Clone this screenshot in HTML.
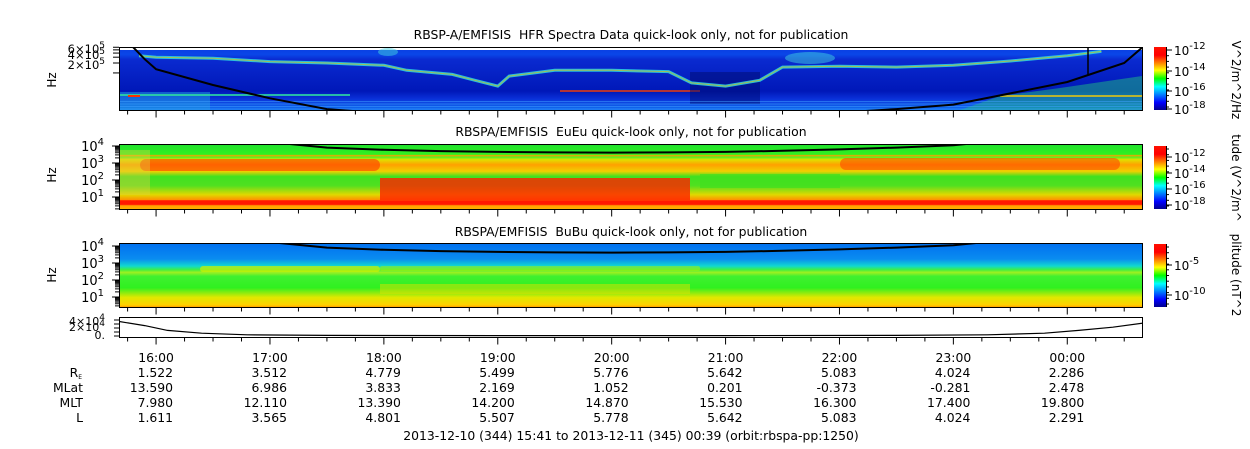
<!DOCTYPE html>
<html><head><meta charset="utf-8"><style>
html,body{margin:0;padding:0;background:#fff}
svg{display:block;font-family:"DejaVu Sans","Liberation Sans",sans-serif}
</style></head><body>
<svg id="c" width="1250" height="449" viewBox="0 0 1250 449">
<defs>
<linearGradient id="jet" x1="0" y1="1" x2="0" y2="0">
<stop offset="0" stop-color="#00008f"/><stop offset="0.12" stop-color="#0000ff"/><stop offset="0.37" stop-color="#00ffff"/><stop offset="0.5" stop-color="#00ff00"/><stop offset="0.63" stop-color="#ffff00"/><stop offset="0.87" stop-color="#ff0000"/><stop offset="1" stop-color="#ff1000"/>
</linearGradient>
<linearGradient id="g1" x1="0" y1="0" x2="0" y2="1">
<stop offset="0" stop-color="#0a3ce0"/><stop offset="0.12" stop-color="#0a46e8"/><stop offset="0.2" stop-color="#0a2ad0"/><stop offset="0.7" stop-color="#0018b8"/><stop offset="0.82" stop-color="#0a30d8"/><stop offset="1" stop-color="#1070f0"/>
</linearGradient>
<linearGradient id="g2" x1="0" y1="0" x2="0" y2="1">
<stop offset="0" stop-color="#20e030"/><stop offset="0.16" stop-color="#30f020"/><stop offset="0.18" stop-color="#ffa000"/><stop offset="0.2" stop-color="#50f020"/><stop offset="0.24" stop-color="#e0e000"/><stop offset="0.32" stop-color="#ffa000"/><stop offset="0.42" stop-color="#f0d000"/><stop offset="0.5" stop-color="#40e020"/><stop offset="0.64" stop-color="#50e020"/><stop offset="0.78" stop-color="#e0d800"/><stop offset="0.86" stop-color="#ff9000"/><stop offset="0.87" stop-color="#ff1800"/><stop offset="0.93" stop-color="#ff1800"/><stop offset="0.95" stop-color="#ffa000"/><stop offset="1" stop-color="#ffb000"/>
</linearGradient>
<linearGradient id="g3" x1="0" y1="0" x2="0" y2="1">
<stop offset="0" stop-color="#0070f0"/><stop offset="0.25" stop-color="#0a8cf0"/><stop offset="0.36" stop-color="#10d8d0"/><stop offset="0.42" stop-color="#40f040"/><stop offset="0.46" stop-color="#a0f020"/><stop offset="0.52" stop-color="#40f030"/><stop offset="0.7" stop-color="#30f020"/><stop offset="0.85" stop-color="#e0e800"/><stop offset="0.97" stop-color="#ffd000"/><stop offset="1" stop-color="#ffa000"/>
</linearGradient>
<clipPath id="cp1"><rect x="120" y="48" width="1022" height="62"/></clipPath>
<clipPath id="cp2"><rect x="120" y="145" width="1022" height="64"/></clipPath>
<clipPath id="cp3"><rect x="120" y="244" width="1022" height="63"/></clipPath>
<clipPath id="cp4"><rect x="120" y="318" width="1022" height="19"/></clipPath>
</defs>
<g id="layer"></g>
</svg>
<script>
// ---- data ----
var hourTicks = [16,17,18,19,20,21,22,23,24];
var hourLabels = ["16:00","17:00","18:00","19:00","20:00","21:00","22:00","23:00","00:00"];
var reVals = ["1.522","3.512","4.779","5.499","5.776","5.642","5.083","4.024","2.286"];
var mlatVals = ["13.590","6.986","3.833","2.169","1.052","0.201","-0.373","-0.281","2.478"];
var mltVals = ["7.980","12.110","13.390","14.200","14.870","15.530","16.300","17.400","19.800"];
var lVals = ["1.611","3.565","4.801","5.507","5.778","5.642","5.083","4.024","2.291"];
// electron cyclotron frequency curve (hours, Hz)
var fceHours = [15.78,15.9,16.0,16.5,17.0,17.5,18.0,18.5,19.0,19.5,20.0,20.5,21.0,21.5,22.0,22.5,23.0,23.5,24.0,24.5,24.66];
var fceHz =    [7e5,2.6e5,1.3e5,4.3e4,1.7e4,8e3,6e3,5e3,4.5e3,4.2e3,4.1e3,4.2e3,4.5e3,5.2e3,6.3e3,8e3,1.1e4,2.4e4,5.3e4,2e5,6e5];
// upper hybrid emission line (hours, Hz)
var uhHours = [15.85,16.0,16.5,17.0,17.5,18.0,18.2,18.6,18.8,19.0,19.1,19.5,20.0,20.5,20.7,21.0,21.3,21.5,22.0,22.5,23.0,23.5,24.0,24.3];
var uhHz =    [3.3e5,3.0e5,2.8e5,2.2e5,2.0e5,1.7e5,1.2e5,9e4,6e4,4e4,8e4,1.2e5,1.2e5,1.1e5,5e4,4e4,6e4,1.5e5,1.6e5,1.5e5,1.7e5,2.3e5,3.3e5,4.5e5];
// bottom panel trace (hours, value)
var p4Hours = [15.68,15.9,16.1,16.4,16.8,17.5,19,21,22.5,23.3,23.8,24.1,24.4,24.66];
var p4Vals =  [3.6e4,2.6e4,1.4e4,7e3,3e3,1.5e3,1e3,1e3,1.5e3,3e3,7e3,1.4e4,2.2e4,3.2e4];

// ---- axes ----
var T0 = 15.6833, PXH = 113.9, X0 = 120;
function xT(h){ return X0 + (h - T0) * PXH; }
function y1(v){ return 63 + (Math.log10(2e5) - Math.log10(v)) * 33; }
function y2(v){ return 146 + (4 - Math.log10(v)) * 17; }
function y3(v){ return 246 + (4 - Math.log10(v)) * 17; }
function y4(v){ return 336 - v / 4e4 * 16; }

var NS = "http://www.w3.org/2000/svg";
var layer = document.getElementById('layer');
function mk(tag, attrs, parent){
  var e = document.createElementNS(NS, tag);
  for (var k in attrs) e.setAttribute(k, attrs[k]);
  (parent || layer).appendChild(e);
  return e;
}
function txt(s, x, y, anchor, size, parent){
  var t = mk('text', {x:x, y:y, 'text-anchor':anchor||'start', 'font-size':size||12, fill:'#000'}, parent);
  t.textContent = s;
  return t;
}

// ---- panel backgrounds ----
var panels = [
  {y:47, h:63, fill:'url(#g1)', cp:'cp1', name:'hfr-spectrogram'},
  {y:144, h:65, fill:'url(#g2)', cp:'cp2', name:'eueu-spectrogram'},
  {y:243, h:64, fill:'url(#g3)', cp:'cp3', name:'bubu-spectrogram'},
  {y:317, h:20, fill:'#fff', cp:'cp4', name:'position-panel'}
];
panels.forEach(function(p){
  var g = mk('g', {'clip-path':'url(#'+p.cp+')'});
  
  
  p.g = g;
  mk('rect', {x:119, y:p.y, width:1024, height:p.h, fill:p.fill}, g);
});

// panel 1 decorations
var g1 = panels[0].g;
mk('rect',{x:120,y:47,width:1022,height:3,fill:'#fff'},g1);
mk('rect',{x:120,y:92,width:90,height:18,fill:'#20a0e0',opacity:0.5},g1);
mk('rect',{x:120,y:94,width:230,height:2,fill:'#30e0a0',opacity:0.8},g1);
mk('rect',{x:128,y:95,width:12,height:2,fill:'#ff3000'},g1);
mk('rect',{x:560,y:90,width:140,height:2,fill:'#ff4000',opacity:0.7},g1);
mk('path',{d:'M960 110 L1000 96 L1060 88 L1142 76 L1142 110 Z',fill:'#20c080',opacity:0.5},g1);
mk('rect',{x:1000,y:95,width:142,height:2,fill:'#ffd000',opacity:0.7},g1);
mk('ellipse',{cx:810,cy:58,rx:25,ry:6,fill:'#40d0e0',opacity:0.5},g1);
mk('ellipse',{cx:388,cy:52,rx:10,ry:4,fill:'#40d0e0',opacity:0.5},g1);
mk('rect',{x:690,y:72,width:70,height:32,fill:'#000c70',opacity:0.5},g1);
for (var i=0;i<4;i++) mk('rect',{x:120,y:101+i*2.5,width:1022,height:1,fill:'#40a0ff',opacity:0.5},g1);

// panel 2 decorations
var g2 = panels[1].g;
mk('rect',{x:140,y:159,width:240,height:12,rx:6,fill:'#ff3800',opacity:0.6},g2);
mk('rect',{x:840,y:158,width:280,height:12,rx:6,fill:'#ff4000',opacity:0.55},g2);
mk('rect',{x:380,y:178,width:310,height:22,fill:'#ff2000',opacity:0.8},g2);
mk('rect',{x:700,y:174,width:140,height:14,fill:'#40e020',opacity:0.7},g2);
mk('rect',{x:120,y:150,width:30,height:45,fill:'#e0d040',opacity:0.4},g2);

// panel 3 decorations
var g3 = panels[2].g;
mk('rect',{x:200,y:266,width:180,height:6,rx:3,fill:'#d0f000',opacity:0.7},g3);
mk('rect',{x:380,y:266,width:320,height:5,rx:2,fill:'#b0f000',opacity:0.5},g3);
mk('rect',{x:380,y:284,width:310,height:10,fill:'#e0e000',opacity:0.5},g3);

// ---- curves ----
function poly(hours, vals, yf, g, name, w){
  var d = hours.map(function(h,i){ return (i?'L':'M') + xT(h).toFixed(1) + ' ' + yf(vals[i]).toFixed(1); }).join(' ');
  var p = mk('path',{d:d, fill:'none', stroke:'#000', 'stroke-width':w||2}, g);
  
  
  return p;
}
var uh = poly(uhHours, uhHz, y1, g1, 'upper-hybrid-line', 3);
uh.setAttribute('stroke','#30d8e0');
uh.setAttribute('opacity','0.85');
var uh2 = poly(uhHours, uhHz, y1, g1, 'upper-hybrid-core', 1);
uh2.setAttribute('stroke','#f0c000');
uh2.setAttribute('opacity','0.6');
poly(fceHours, fceHz, y1, g1, 'fce-line-hfr', 2);
mk('line',{x1:1088,y1:47,x2:1088,y2:75,stroke:'#000','stroke-width':1.5},g1);
poly(fceHours, fceHz, y2, g2, 'fce-line-eueu', 2);
poly(fceHours, fceHz, y3, g3, 'fce-line-bubu', 2);
poly(p4Hours, p4Vals, y4, panels[3].g, 'position-trace', 1.2);

// ---- frames & ticks ----
panels.forEach(function(p){
  mk('rect',{x:119.5,y:p.y+0.5,width:1023,height:p.h,fill:'none',stroke:'#000','stroke-width':1});
  var yb = p.y + p.h + 0.5;
  for (var m = 15.75; m <= 24.66; m += 0.25){
    var major = Math.abs(m - Math.round(m)) < 1e-6;
    mk('line',{x1:xT(m),y1:yb,x2:xT(m),y2:yb+(major?7:4),stroke:'#000','stroke-width':1});
  }
});

// panel1 labels
[[6,49],[4,55],[2,65]].forEach(function(a){
  var t = txt(a[0]+'×10', 105, a[1]+4, 'end', 11.5);
  var s = mk('tspan',{dy:-5,'font-size':9}, t); s.textContent='5';
});
[6e5,5e5,4e5,3e5,2e5,1e5].forEach(function(v){ mk('line',{x1:113,y1:y1(v),x2:119,y2:y1(v),stroke:'#000'}); });
function decadeLabels(yf, exps, base){
  exps.forEach(function(e){
    var v = Math.pow(10,e);
    var t = txt('10', 104, yf(v)+5, 'end', 13);
    var s = mk('tspan',{dy:-6,'font-size':10}, t); s.textContent = String(e);
    mk('line',{x1:112,y1:yf(v),x2:119,y2:yf(v),stroke:'#000'});
    for (var k=2;k<10;k++){ var yy=yf(v*k); if (yy>base[0] && yy<base[1]) mk('line',{x1:115,y1:yy,x2:119,y2:yy,stroke:'#000'}); }
    for (var k2=2;k2<10;k2++){ var yz=yf(v/10*k2); if (e===1 && yz>base[0] && yz<base[1]) mk('line',{x1:115,y1:yz,x2:119,y2:yz,stroke:'#000'}); }
  });
}
decadeLabels(y2,[4,3,2,1],[144,209]);
decadeLabels(y3,[4,3,2,1],[243,307]);
var p4t = [['4×10',321],['2×10',327]];
p4t.forEach(function(a){ var t=txt(a[0],105,a[1]+4,'end',11); var s=mk('tspan',{dy:-5,'font-size':9},t); s.textContent='4'; });
txt('0.',105,339,'end',11);
[0,1e4,2e4,3e4,4e4].forEach(function(v){ mk('line',{x1:114,y1:y4(v),x2:119,y2:y4(v),stroke:'#000'}); });

// Hz labels
[[80,'hz-label-1'],[175,'hz-label-2'],[275,'hz-label-3']].forEach(function(a){
  var t = txt('Hz', 56, a[0], 'middle', 12);
  t.setAttribute('transform','rotate(-90 56 '+a[0]+')');
  
  
});

// titles
var titles = [['RBSP-A/EMFISIS  HFR Spectra Data quick-look only, not for publication',39],
              ['RBSPA/EMFISIS  EuEu quick-look only, not for publication',136],
              ['RBSPA/EMFISIS  BuBu quick-look only, not for publication',236]];
titles.forEach(function(a,i){
  var t = txt(a[0], 631, a[1], 'middle', 12.4);
  
  
  t.style.whiteSpace='pre';
});

// colorbars
var cbars = [{y:47,h:63,labs:[[-12,50],[-14,71],[-16,91],[-18,109]],unit:'V^2/m^2/Hz',uy:80},
             {y:146,h:63,labs:[[-12,157],[-14,173],[-16,189],[-18,205]],unit:'tude (V^2/m^',uy:178},
             {y:244,h:63,labs:[[-5,265],[-10,295]],unit:'plitude (nT^2',uy:275}];
cbars.forEach(function(c,i){
  var r = mk('rect',{x:1154,y:c.y,width:12,height:c.h,fill:'url(#jet)'});
  
  
  mk('line',{x1:1166.5,y1:c.y,x2:1166.5,y2:c.y+c.h,stroke:'#000'});
  for (var k=0;k<=10;k++) mk('line',{x1:1166,y1:c.y+3+k*(c.h-6)/10,x2:1169,y2:c.y+3+k*(c.h-6)/10,stroke:'#000'});
  c.labs.forEach(function(l){
    mk('line',{x1:1166,y1:l[1],x2:1172,y2:l[1],stroke:'#000'});
    var t = txt('10',1174,l[1]+5,'start',12);
    var s = mk('tspan',{dy:-6,'font-size':10},t); s.textContent=String(l[0]);
  });
  var u = txt(c.unit, 1232, c.uy, 'middle', 12);
  u.setAttribute('transform','rotate(90 1232 '+c.uy+')');
});

// bottom table
hourTicks.forEach(function(h,i){
  var x = xT(h);
  var t = txt(hourLabels[i], x, 362, 'middle', 12.4);
  
  
  [reVals,mlatVals,mltVals,lVals].forEach(function(arr,r){
    txt(arr[i], x+17, 377+r*15, 'end', 12.4);
  });
});
var rl = txt('R',82,377,'end',12.4); var rs=mk('tspan',{'font-size':6,dy:2},rl); rs.textContent='E';
txt('MLat',83,392,'end',12.4);
txt('MLT',83,407,'end',12.4);
txt('L',83,422,'end',12.4);
var ft = txt('2013-12-10 (344) 15:41 to 2013-12-11 (345) 00:39 (orbit:rbspa-pp:1250)', 631, 440, 'middle', 12.4);


</script>
</body></html>
